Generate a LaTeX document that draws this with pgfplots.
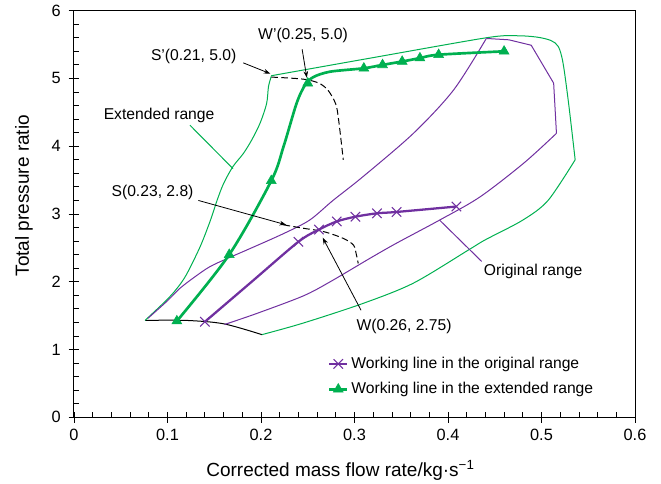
\documentclass[border=0pt]{standalone}
\usepackage{fontspec}
\setmainfont{Liberation Sans}
\usepackage{pgfplots}
\pgfplotsset{compat=1.18}
\usetikzlibrary{arrows.meta}
\definecolor{wgreen}{RGB}{0,176,80}
\definecolor{wpurple}{RGB}{112,48,160}
\newcommand\tickfont{\fontsize{12.25}{14}\selectfont}
\newcommand\labfont{\fontsize{14.25}{17}\selectfont}
\newcommand\annfont{\fontsize{11.75}{14}\selectfont}
\begin{document}
\begin{tikzpicture}
\useasboundingbox (-55.5pt,-50pt) rectangle (440.25pt,313pt);
\begin{axis}[
  scale only axis, width=420.75pt, height=305pt,
  at={(0,0)}, anchor=south west,
  xmin=0, xmax=0.6, ymin=0, ymax=6,
  clip=false,
  xtick={0,0.1,0.2,0.3,0.4,0.5,0.6}, ytick={0,1,2,3,4,5,6},
  minor x tick num=4, minor y tick num=4,
  tick pos=left, tick align=center,
  major tick length=8pt, minor tick length=4pt,
  minor x tick style={yshift=2pt}, minor y tick style={xshift=2pt},
  tick style={black, line width=0.6pt},
  axis line style={line width=0.75pt},
  /pgf/number format/assume math mode=true,
  ticklabel style={font=\tickfont},
  yticklabel style={xshift=-2.5pt},
  xticklabel style={yshift=-1.5pt},
  xlabel={Corrected mass flow rate/kg·s\textsuperscript{−1}},
  ylabel={Total pressure ratio},
  every axis x label/.style={at={(axis description cs:0.475,-0.146)}, anchor=base, font=\labfont},
  every axis y label/.style={at={(axis description cs:-0.089,0.545)}, anchor=center, rotate=90, font=\labfont},
  legend style={at={(0.452,0.155)}, anchor=north west, draw=none, fill=none, font=\annfont, row sep=5pt, inner sep=0pt},
  legend cell align=left,
  legend image code/.code={\draw[mark repeat=2,mark phase=2] plot coordinates {(0cm,0cm) (0.24cm,0cm) (0.48cm,0cm)};},
]
\addlegendimage{wpurple, line width=1.7pt, mark=x, mark size=5pt, mark options={line width=0.8pt}}
\addlegendentry{Working line in the original range}
\addlegendimage{wgreen, line width=2pt, mark=triangle*, mark size=4.3pt, mark options={line width=0.4pt}}
\addlegendentry{Working line in the extended range}

% black base line
\addplot[forget plot, black, line width=0.75pt, smooth] coordinates {(0.076,1.43) (0.12,1.43) (0.160,1.38) (0.201,1.22)};
% extended range boundary
\addplot[forget plot, wgreen, line width=0.75pt, smooth] coordinates {(0.076,1.43) (0.099,1.73) (0.110,1.90) (0.120,2.10) (0.135,2.52) (0.146,2.91) (0.153,3.20) (0.160,3.45) (0.170,3.70) (0.181,3.89) (0.190,4.09) (0.199,4.34) (0.206,4.63) (0.208,4.88) (0.211,5.03)};
\addplot[forget plot, wgreen, line width=0.75pt, smooth] coordinates {(0.211,5.04) (0.317,5.30) (0.441,5.60) (0.473,5.63) (0.495,5.61) (0.510,5.56) (0.518,5.47) (0.523,5.23) (0.529,4.63) (0.536,3.80)};
\addplot[forget plot, wgreen, line width=0.75pt, smooth] coordinates {(0.536,3.80) (0.507,3.20) (0.480,2.91) (0.440,2.62) (0.422,2.47) (0.363,1.98) (0.309,1.68) (0.245,1.39) (0.201,1.22)};
% original range boundary
\addplot[forget plot, wpurple, line width=0.75pt, smooth] coordinates {(0.079,1.46) (0.100,1.72) (0.113,1.90) (0.128,2.06) (0.145,2.22) (0.165,2.35) (0.185,2.47) (0.224,2.71) (0.252,2.91) (0.277,3.20) (0.309,3.55) (0.363,4.19) (0.406,4.83) (0.441,5.59)};
\addplot[forget plot, wpurple, line width=0.75pt] coordinates {(0.441,5.59) (0.465,5.57) (0.489,5.49) (0.513,4.93) (0.516,4.19)};
\addplot[forget plot, wpurple, line width=0.75pt, smooth] coordinates {(0.516,4.19) (0.481,3.75) (0.434,3.25) (0.391,2.91) (0.345,2.57) (0.317,2.35) (0.274,2.00) (0.245,1.79) (0.195,1.53) (0.161,1.37)};
% dashed lines
\addplot[forget plot, black, line width=0.75pt, dash pattern=on 5pt off 2.5pt, smooth] coordinates {(0.211,5.02) (0.245,4.99) (0.262,4.93) (0.272,4.82) (0.280,4.62) (0.283,4.39) (0.288,3.80)};
\addplot[forget plot, black, line width=0.75pt, dash pattern=on 5pt off 2.5pt, smooth] coordinates {(0.224,2.84) (0.245,2.79) (0.267,2.74) (0.288,2.64) (0.299,2.54) (0.302,2.40) (0.304,2.27)};
% working lines
\addplot[forget plot, wpurple, line width=1.7pt, smooth] coordinates {(0.140,1.41) (0.190,2.00) (0.240,2.59) (0.262,2.77) (0.281,2.89) (0.301,2.96) (0.324,3.01) (0.345,3.03) (0.409,3.11)};
\addplot[forget plot, only marks, wpurple, mark=x, mark size=5pt, mark options={line width=0.8pt}] coordinates {(0.140,1.41) (0.240,2.59) (0.262,2.77) (0.281,2.89) (0.301,2.96) (0.324,3.01) (0.345,3.03) (0.409,3.11)};
\addplot[forget plot, wgreen, line width=2pt, smooth] coordinates {(0.110,1.42) (0.166,2.40) (0.211,3.49) (0.224,3.99) (0.238,4.63) (0.247,4.90) (0.256,5.02) (0.274,5.10) (0.310,5.15) (0.330,5.20) (0.351,5.25) (0.370,5.30) (0.390,5.35) (0.460,5.40)};
\addplot[forget plot, only marks, wgreen, mark=triangle*, mark size=4.3pt] coordinates {(0.110,1.42) (0.166,2.40) (0.211,3.49) (0.250,4.93) (0.310,5.15) (0.330,5.20) (0.351,5.25) (0.370,5.30) (0.390,5.35) (0.460,5.40)};
% annotations
\node[font=\annfont] at (axis cs:0.245,5.63) {W'(0.25, 5.0)};
\draw[-{Stealth[length=5pt,width=3.5pt]}, line width=0.6pt] (axis cs:0.244,5.43) -- (axis cs:0.249,5.01);
\node[font=\annfont] at (axis cs:0.128,5.32) {S'(0.21, 5.0)};
\draw[-{Stealth[length=5pt,width=3.5pt]}, line width=0.6pt] (axis cs:0.181,5.23) -- (axis cs:0.210,5.07);
\node[font=\annfont] at (axis cs:0.091,4.46) {Extended range};
\draw[wgreen, line width=0.75pt] (axis cs:0.124,4.31) -- (axis cs:0.170,3.67);
\node[font=\annfont] at (axis cs:0.084,3.32) {S(0.23, 2.8)};
\draw[-{Stealth[length=5pt,width=3.5pt]}, line width=0.6pt] (axis cs:0.133,3.20) -- (axis cs:0.227,2.84);
\node[font=\annfont] at (axis cs:0.353,1.34) {W(0.26, 2.75)};
\draw[-{Stealth[length=5pt,width=3.5pt]}, line width=0.6pt] (axis cs:0.307,1.58) -- (axis cs:0.266,2.65);
\node[font=\annfont] at (axis cs:0.491,2.15) {Original range};
\draw[wpurple, line width=0.75pt] (axis cs:0.436,2.30) -- (axis cs:0.391,2.91);
\end{axis}
\end{tikzpicture}
\end{document}
